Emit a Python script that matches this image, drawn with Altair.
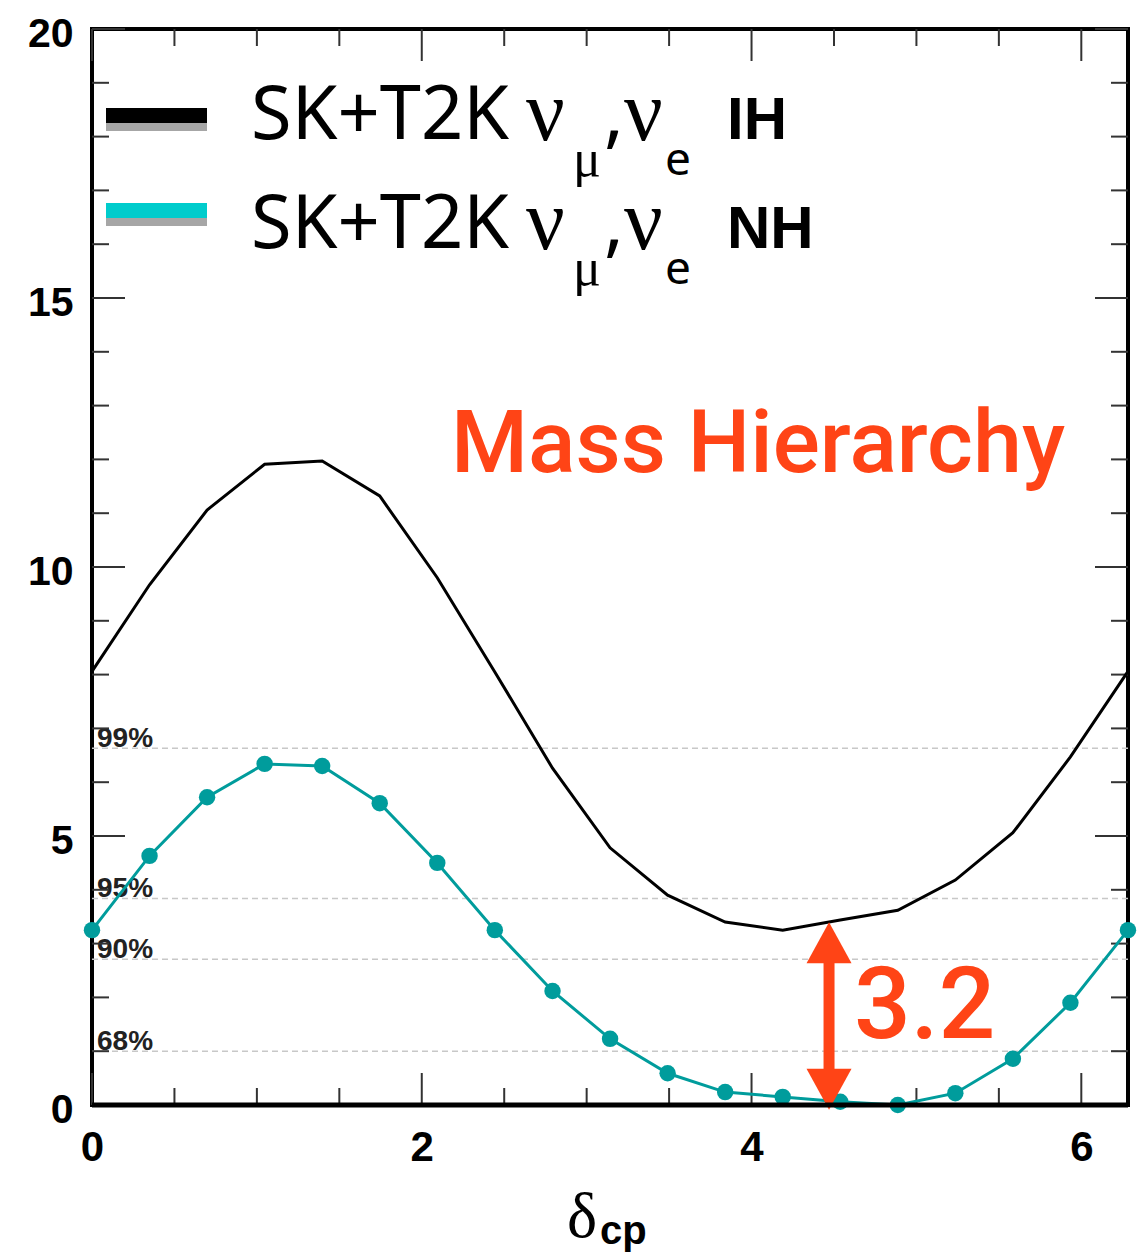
import altair as alt
import pandas as pd

# ---- data ----
delta = [0.000, 0.349, 0.698, 1.047, 1.396, 1.745, 2.094, 2.443, 2.793, 3.142,
         3.491, 3.840, 4.189, 4.538, 4.887, 5.236, 5.585, 5.934, 6.283]
chi2_ih = [8.06, 9.67, 11.06, 11.91, 11.97, 11.32, 9.80, 8.05, 6.26, 4.78,
           3.90, 3.40, 3.25, 3.44, 3.62, 4.18, 5.06, 6.47, 8.06]
chi2_nh = [3.25, 4.63, 5.72, 6.34, 6.30, 5.61, 4.50, 3.25, 2.12, 1.23,
           0.59, 0.24, 0.15, 0.06, 0.00, 0.22, 0.86, 1.90, 3.25]

cl_levels = [1.00, 2.71, 3.84, 6.63]
cl_labels = ["68%", "90%", "95%", "99%"]

x_major = [0, 2, 4, 6]
x_minor = [0.5, 1, 1.5, 2.5, 3, 3.5, 4.5, 5, 5.5]
y_major = [0, 5, 10, 15, 20]
y_minor = [1, 2, 3, 4, 6, 7, 8, 9, 11, 12, 13, 14, 16, 17, 18, 19]

arrow_x = 4.47
arrow_top = 2.98
arrow_bottom = 0.33

W, H = 1036, 1076
ORANGE = "#ff4416"
TEAL = "#009c9c"

xs = alt.Scale(domain=[0, 6.2832], nice=False, zero=False)
ys = alt.Scale(domain=[0, 20], nice=False, zero=False)

AX = alt.Axis(values=x_major, title=None, tickSize=0, domain=False, grid=False,
              labelFont="Liberation Sans", labelFontWeight="bold",
              labelFontSize=42, labelColor="black", labelPadding=22,
              format="d", labelFlush=False)
AY = alt.Axis(values=y_major, title=None, tickSize=0, domain=False, grid=False,
              labelFont="Liberation Sans", labelFontWeight="bold",
              labelFontSize=41, labelColor="black", labelPadding=19,
              labelOffset=5, format="d", labelFlush=False)

def X(f):
    return alt.X(f, scale=xs, axis=AX)

def Y(f):
    return alt.Y(f, scale=ys, axis=AY)

curves = pd.DataFrame({"delta": delta, "ih": chi2_ih, "nh": chi2_nh})
cl = pd.DataFrame({"level": cl_levels, "label": cl_labels})
one = pd.DataFrame({"a": [0]})

# confidence level dashed lines
cl_lines = alt.Chart(cl).mark_rule(color="#c8c8c8", strokeWidth=1.5, strokeDash=[6, 4]).encode(
    y=Y("level:Q")
)
cl_text = alt.Chart(cl).mark_text(
    align="left", baseline="alphabetic", font="Liberation Sans", fontWeight="bold",
    fontSize=28, color="#222222", dy=-1
).encode(x=alt.value(5), y=Y("level:Q"), text="label:N")

ih_line = alt.Chart(curves).mark_line(color="black", strokeWidth=3).encode(
    x=X("delta:Q"), y=Y("ih:Q"))
nh_line = alt.Chart(curves).mark_line(color=TEAL, strokeWidth=3).encode(
    x=X("delta:Q"), y=Y("nh:Q"))
nh_pts = alt.Chart(curves).mark_point(filled=True, color=TEAL, size=270, opacity=1).encode(
    x=X("delta:Q"), y=Y("nh:Q"))

# inward ticks
def xticks(vals, L):
    d = pd.DataFrame({"t": vals})
    b = alt.Chart(d).mark_rule(color="#333333", strokeWidth=2).encode(
        x=X("t:Q"), y=alt.value(H), y2=alt.value(H - L))
    t = alt.Chart(d).mark_rule(color="#333333", strokeWidth=2).encode(
        x=X("t:Q"), y=alt.value(0), y2=alt.value(L))
    return [b, t]

def yticks(vals, L):
    d = pd.DataFrame({"t": vals})
    l = alt.Chart(d).mark_rule(color="#333333", strokeWidth=2).encode(
        y=Y("t:Q"), x=alt.value(0), x2=alt.value(L))
    r = alt.Chart(d).mark_rule(color="#333333", strokeWidth=2).encode(
        y=Y("t:Q"), x=alt.value(W), x2=alt.value(W - L))
    return [l, r]

ticks = xticks(x_major, 32) + xticks(x_minor, 17) + yticks(y_major, 33) + yticks(y_minor, 17)

bottom_edge = alt.Chart(one).mark_rule(color="black", strokeWidth=5).encode(
    x=alt.value(0), x2=alt.value(W), y=alt.value(H))

# arrow
arrow_df = pd.DataFrame({"x": [arrow_x], "y1": [arrow_top], "y2": [arrow_bottom]})
shaft = alt.Chart(arrow_df).mark_rule(color=ORANGE, strokeWidth=11).encode(
    x=X("x:Q"), y=Y("y1:Q"), y2="y2:Q")
head_up = alt.Chart(arrow_df).mark_point(
    shape="M0,-1L1,0.82L-1,0.82Z", filled=True, color=ORANGE, size=2025, opacity=1, strokeWidth=0
).encode(x=X("x:Q"), y=Y("y1:Q"))
head_down = alt.Chart(arrow_df).mark_point(
    shape="M0,1L1,-0.82L-1,-0.82Z", filled=True, color=ORANGE, size=2025, opacity=1, strokeWidth=0
).encode(x=X("x:Q"), y=Y("y2:Q"))

def txt(s, x, y, size, font, weight="normal", color="black"):
    return alt.Chart(one).mark_text(
        text=s, font=font, fontSize=size, fontWeight=weight, color=color,
        align="left", baseline="alphabetic"
    ).encode(x=alt.value(x), y=alt.value(y))

def rect(x1, x2, y1, y2, color):
    return alt.Chart(one).mark_rect(color=color).encode(
        x=alt.value(x1), x2=alt.value(x2), y=alt.value(y1), y2=alt.value(y2))

legend = []
for i, (col, tag) in enumerate([("black", "IH"), ("#00cccc", "NH")]):
    dy = i * 109
    by = 79 if i == 0 else 174
    legend += [
        rect(14, 115, by, by + 15, col),
        rect(14, 115, by + 15, by + 23, "#a6a6a6"),
        txt("SK+T2K", 159, 110 + dy, 74, "Noto Sans"),
        txt("ν", 434, 111 + dy, 86, "Liberation Serif"),
        txt("μ", 481, 147 + dy, 52, "Liberation Serif"),
        txt(",", 512, 110 + dy, 74, "Noto Sans"),
        txt("ν", 532, 111 + dy, 86, "Liberation Serif"),
        txt("e", 573, 146 + dy, 46, "Noto Sans"),
        txt(tag, 635, 110 + dy, 60, "Liberation Sans", "bold"),
    ]

annot = [
    txt("Mass Hierarchy", 359, 443, 88, "Roboto", weight=500, color=ORANGE),
    txt("3.2", 762, 1009, 100, "Roboto", weight=500, color=ORANGE),
    txt("δ", 475, 1208, 64, "Liberation Serif"),
    txt("cp", 508, 1215, 40, "Liberation Sans", "bold"),
]

chart = alt.layer(
    cl_lines, cl_text, *ticks, ih_line, nh_line, nh_pts, shaft, head_up, head_down,
    bottom_edge, *legend, *annot
).properties(
    width=W, height=H,
    background="white",
    autosize=alt.AutoSizeParams(type="none"),
    padding={"left": 92, "top": 29, "right": 18, "bottom": 151},
).configure_view(
    stroke="black", strokeWidth=4
)

chart.save("out.html", embed_options={"renderer": "svg", "actions": False})
